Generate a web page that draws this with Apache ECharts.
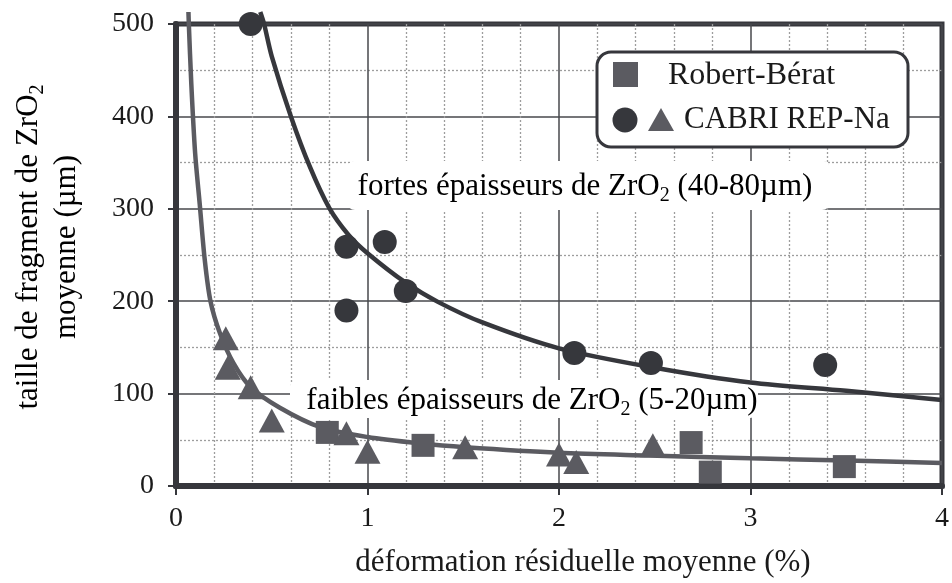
<!DOCTYPE html>
<html>
<head>
<meta charset="utf-8">
<script src="https://cdn.jsdelivr.net/npm/echarts@6/dist/echarts.min.js"></script>
<style>
  html, body { margin: 0; padding: 0; background: #fff; }
  #chart { width: 952px; height: 583px; }
</style>
</head>
<body>
<div id="chart"></div>
<script>
'use strict';

// points: [déformation %, taille µm]
var robertBerat = [[0.79, 58], [1.29, 44], [2.69, 47], [2.79, 15], [3.49, 21]];
var cabriFortes = [[0.39, 500], [0.89, 259], [1.09, 264], [0.89, 190], [1.2, 211], [2.08, 144], [2.48, 133], [3.39, 131]];
var cabriFaibles = [[0.26, 160], [0.27, 128], [0.39, 107], [0.5, 71], [0.89, 57], [1.0, 37], [1.51, 42], [2.0, 34], [2.09, 26], [2.49, 44]];

// the two hand drawn trend curves
var curveFortes = [[0.44, 513], [0.46, 500], [0.5, 465], [0.6, 400], [0.7, 345], [0.8, 301], [0.9, 272], [1.0, 252], [1.2, 220], [1.37, 199], [1.6, 177], [2.0, 149], [2.5, 128], [3.0, 112], [3.5, 103], [4.0, 93]];
var curveFaibles = [[0.065, 513], [0.067, 500], [0.08, 435], [0.1, 360], [0.124, 305], [0.15, 245], [0.18, 200], [0.23, 165], [0.3, 133], [0.39, 107], [0.54, 85], [0.75, 64], [1.0, 53], [1.28, 46], [1.51, 42], [2.0, 36], [2.47, 33], [3.0, 30], [3.5, 27.5], [4.0, 25]];

var xTicks = [0, 1, 2, 3, 4];
var yTicks = [0, 100, 200, 300, 400, 500];

var DARK = '#36373c';
var GREY = '#5b5b61';
var INK = '#1a1a1a';
var FONT = 'Liberation Serif';

var subStyle = { fontFamily: FONT, fontSize: 20, color: INK, verticalAlign: 'bottom', lineHeight: 20 };
var mainStyle = { fontFamily: FONT, fontSize: 31, color: INK, lineHeight: 38 };

var chart = echarts.init(document.getElementById('chart'), null, { renderer: 'canvas' });

var option = {
    animation: false,
    backgroundColor: '#fff',
    grid: {
        left: 176, right: 4, top: 24, bottom: 97,
        show: true, borderColor: DARK, borderWidth: 5, backgroundColor: 'transparent'
    },
    xAxis: {
        type: 'value',
        min: xTicks[0], max: xTicks[xTicks.length - 1], interval: 1,
        axisLine: { lineStyle: { color: DARK, width: 6 } },
        axisTick: { show: true, length: 9, lineStyle: { color: DARK, width: 2 } },
        axisLabel: { margin: 19, fontFamily: FONT, fontSize: 28, color: INK },
        splitLine: { lineStyle: { color: '#47484d', width: 1.5 } },
        minorTick: { show: false, splitNumber: 5 },
        minorSplitLine: { show: true, lineStyle: { color: '#9d9d9d', width: 1.3, type: [2, 2] } }
    },
    yAxis: {
        type: 'value',
        min: yTicks[0], max: yTicks[yTicks.length - 1], interval: 100,
        axisLine: { show: true, lineStyle: { color: DARK, width: 6 } },
        axisTick: { show: true, length: 8, lineStyle: { color: DARK, width: 2 } },
        axisLabel: { margin: 22, fontFamily: FONT, fontSize: 28, color: INK },
        splitLine: { lineStyle: { color: '#47484d', width: 1.5 } },
        minorTick: { show: false, splitNumber: 2 },
        minorSplitLine: { show: true, lineStyle: { color: '#9d9d9d', width: 1.3, type: [2, 2] } }
    },
    graphic: [
        // white boxes behind the two curve captions
        { type: 'rect', z: 1, shape: { x: 347, y: 161, width: 483, height: 49, r: 8 }, style: { fill: '#fff' } },
        { type: 'rect', z: 1, shape: { x: 290, y: 380, width: 468, height: 38, r: 8 }, style: { fill: '#fff' } },
        {
            type: 'text', z: 10, x: 585, y: 187,
            style: {
                text: '{a|fortes épaisseurs de ZrO}{s|2}{a| (40-80µm)}',
                rich: { a: mainStyle, s: subStyle },
                align: 'center', verticalAlign: 'middle'
            }
        },
        {
            type: 'text', z: 10, x: 532, y: 401,
            style: {
                text: '{a|faibles épaisseurs de ZrO}{s|2}{a| (5-20µm)}',
                rich: { a: mainStyle, s: subStyle },
                align: 'center', verticalAlign: 'middle'
            }
        },
        // legend box
        { type: 'rect', z: 20, shape: { x: 597, y: 52, width: 311, height: 95, r: 14 }, style: { fill: '#fff', stroke: DARK, lineWidth: 3 } },
        { type: 'rect', z: 21, shape: { x: 613, y: 62, width: 25, height: 25 }, style: { fill: GREY } },
        { type: 'circle', z: 21, shape: { cx: 625, cy: 120, r: 12.5 }, style: { fill: DARK } },
        { type: 'polygon', z: 21, shape: { points: [[661, 108], [674, 131], [648, 131]] }, style: { fill: GREY } },
        { type: 'text', z: 21, x: 668, y: 76, style: { text: 'Robert-Bérat', fontFamily: FONT, fontSize: 32, fill: INK, verticalAlign: 'middle' } },
        { type: 'text', z: 21, x: 684, y: 120, style: { text: 'CABRI REP-Na', fontFamily: FONT, fontSize: 31, fill: INK, verticalAlign: 'middle' } },
        // axis titles
        {
            type: 'text', z: 10, x: 583, y: 563,
            style: { text: 'déformation résiduelle moyenne (%)', fontFamily: FONT, fontSize: 31, fill: INK, align: 'center', verticalAlign: 'middle' }
        },
        {
            type: 'text', z: 10, x: 48, y: 247, rotation: Math.PI / 2,
            style: {
                text: '{a|taille de fragment de ZrO}{s|2}\n{a|moyenne (µm)}',
                rich: { a: mainStyle, s: subStyle },
                align: 'center', verticalAlign: 'middle'
            }
        }
    ],
    series: [
        {
            name: 'fortes épaisseurs', type: 'line', data: curveFortes, smooth: 0.3, clip: false,
            showSymbol: false, lineStyle: { color: DARK, width: 4.5 }, z: 3
        },
        {
            name: 'faibles épaisseurs', type: 'line', data: curveFaibles, smooth: 0.3, clip: false,
            showSymbol: false, lineStyle: { color: GREY, width: 4.5 }, z: 3
        },
        {
            name: 'Robert-Bérat', type: 'scatter', data: robertBerat, symbol: 'rect', symbolSize: 23,
            itemStyle: { color: GREY, opacity: 1 }, z: 4
        },
        {
            name: 'CABRI REP-Na', type: 'scatter', data: cabriFaibles, symbol: 'triangle', symbolSize: [26, 24],
            itemStyle: { color: GREY, opacity: 1 }, z: 4
        },
        {
            name: 'CABRI REP-Na ', type: 'scatter', data: cabriFortes, symbol: 'circle', symbolSize: 24,
            itemStyle: { color: DARK, opacity: 1 }, z: 4, clip: false
        }
    ]
};

chart.setOption(option);
</script>
</body>
</html>
